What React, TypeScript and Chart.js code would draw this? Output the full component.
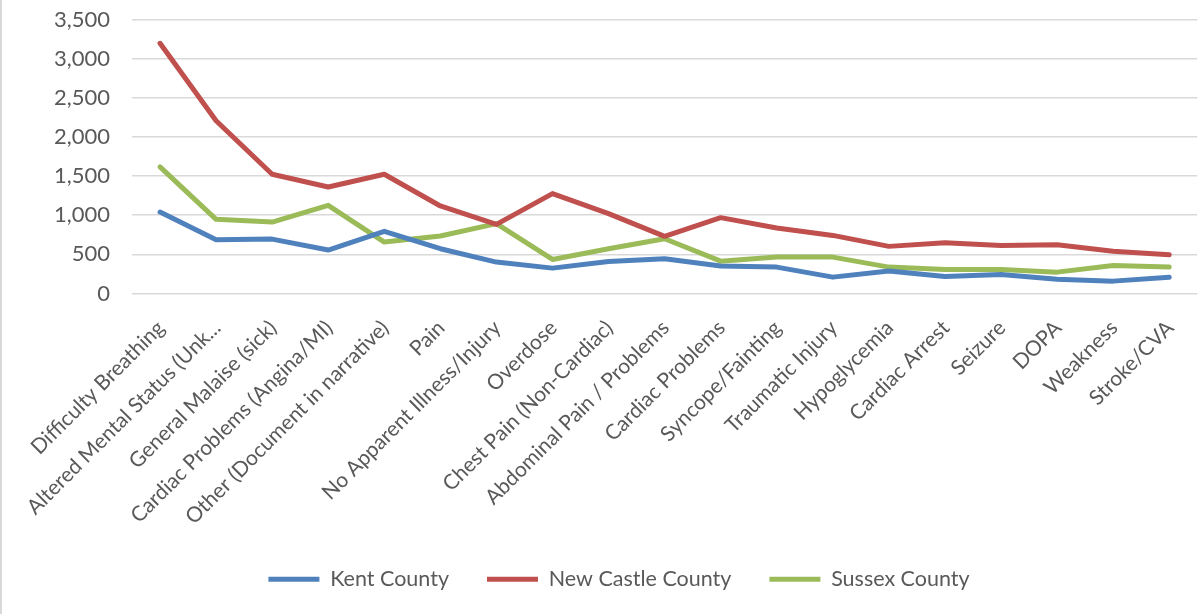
import React, { useEffect, useRef } from "react";
import { Chart, registerables } from "chart.js";

Chart.register(...registerables);

const categories = [
  "Difficulty Breathing",
  "Altered Mental Status (Unk...",
  "General Malaise (sick)",
  "Cardiac Problems (Angina/MI)",
  "Other (Document in narrative)",
  "Pain",
  "No Apparent Illness/Injury",
  "Overdose",
  "Chest Pain (Non-Cardiac)",
  "Abdominal Pain / Problems",
  "Cardiac Problems",
  "Syncope/Fainting",
  "Traumatic Injury",
  "Hypoglycemia",
  "Cardiac Arrest",
  "Seizure",
  "DOPA",
  "Weakness",
  "Stroke/CVA",
];

const kentCounty = [1040, 687, 695, 555, 794, 572, 401, 324, 410, 444, 350, 337, 209, 286, 218, 243, 183, 158, 209];
const newCastleCounty = [3196, 2206, 1523, 1361, 1523, 1118, 883, 1276, 1020, 730, 969, 836, 742, 602, 649, 614, 623, 541, 495];
const sussexCounty = [1617, 947, 913, 1126, 657, 734, 892, 435, 572, 700, 413, 465, 465, 337, 307, 307, 273, 358, 337];

const yTicks = { min: 0, max: 3500, step: 500 };

const FONT = "Lato, 'Open Sans', sans-serif";
const TEXT = "#595959";

const noLabelClip = {
  id: "noLabelClip",
  beforeDraw(chart: any) {
    const x = chart.scales?.x;
    if (x) x._computeLabelArea = () => undefined;
  },
};

export default function App() {
  const ref = useRef<HTMLCanvasElement | null>(null);

  useEffect(() => {
    document.body.style.margin = "0";
    if (!ref.current) return;
    const chart = new Chart(ref.current, {
      type: "line",
      data: {
        labels: categories,
        datasets: [
          { label: "Kent County", data: kentCounty, borderColor: "#4F81BD", backgroundColor: "#4F81BD" },
          { label: "New Castle County", data: newCastleCounty, borderColor: "#C0504D", backgroundColor: "#C0504D" },
          { label: "Sussex County", data: sussexCounty, borderColor: "#9BBB59", backgroundColor: "#9BBB59" },
        ].map((d) => ({
          ...d,
          borderWidth: 5,
          pointRadius: 0,
          tension: 0,
          borderCapStyle: "round" as const,
          borderJoinStyle: "round" as const,
        })),
      },
      plugins: [noLabelClip],
      options: {
        animation: false,
        responsive: true,
        maintainAspectRatio: false,
        layout: { padding: { top: 19.5, right: 0, bottom: 14, left: 37 } },
        plugins: {
          tooltip: { enabled: false },
          legend: {
            position: "bottom",
            labels: {
              usePointStyle: true,
              pointStyle: "line",
              pointStyleWidth: 51,
              padding: 38,
              color: TEXT,
              font: { family: FONT, size: 21.5 },
            },
          },
        },
        scales: {
          x: {
            offset: true,
            grid: { display: false },
            border: { display: false },
            ticks: {
              autoSkip: false,
              minRotation: 45,
              maxRotation: 45,
              color: TEXT,
              padding: 14,
              labelOffset: 1,
              font: { family: FONT, size: 21 },
            },
            afterFit: (scale: any) => {
              scale.height = 237;
            },
          },
          y: {
            min: yTicks.min,
            max: yTicks.max,
            grid: { color: "#d9d9d9", lineWidth: 1.5, drawTicks: true, tickLength: 22, tickColor: "rgba(0,0,0,0)" },
            border: { display: false },
            ticks: {
              stepSize: yTicks.step,
              color: TEXT,
              padding: 0,
              font: { family: FONT, size: 22 },
              callback: (v: any) => Number(v).toLocaleString("en-US"),
            },
            afterFit: (scale: any) => {
              scale.width = 95;
            },
          },
        },
      },
    });
    return () => chart.destroy();
  }, []);

  return (
    <div style={{ position: "relative", width: 1201, height: 614, background: "#fff" }}>
      <canvas ref={ref} />
      <div style={{ position: "absolute", left: 0, top: 0, width: 2, height: 614, background: "#d9d9d9" }} />
    </div>
  );
}
